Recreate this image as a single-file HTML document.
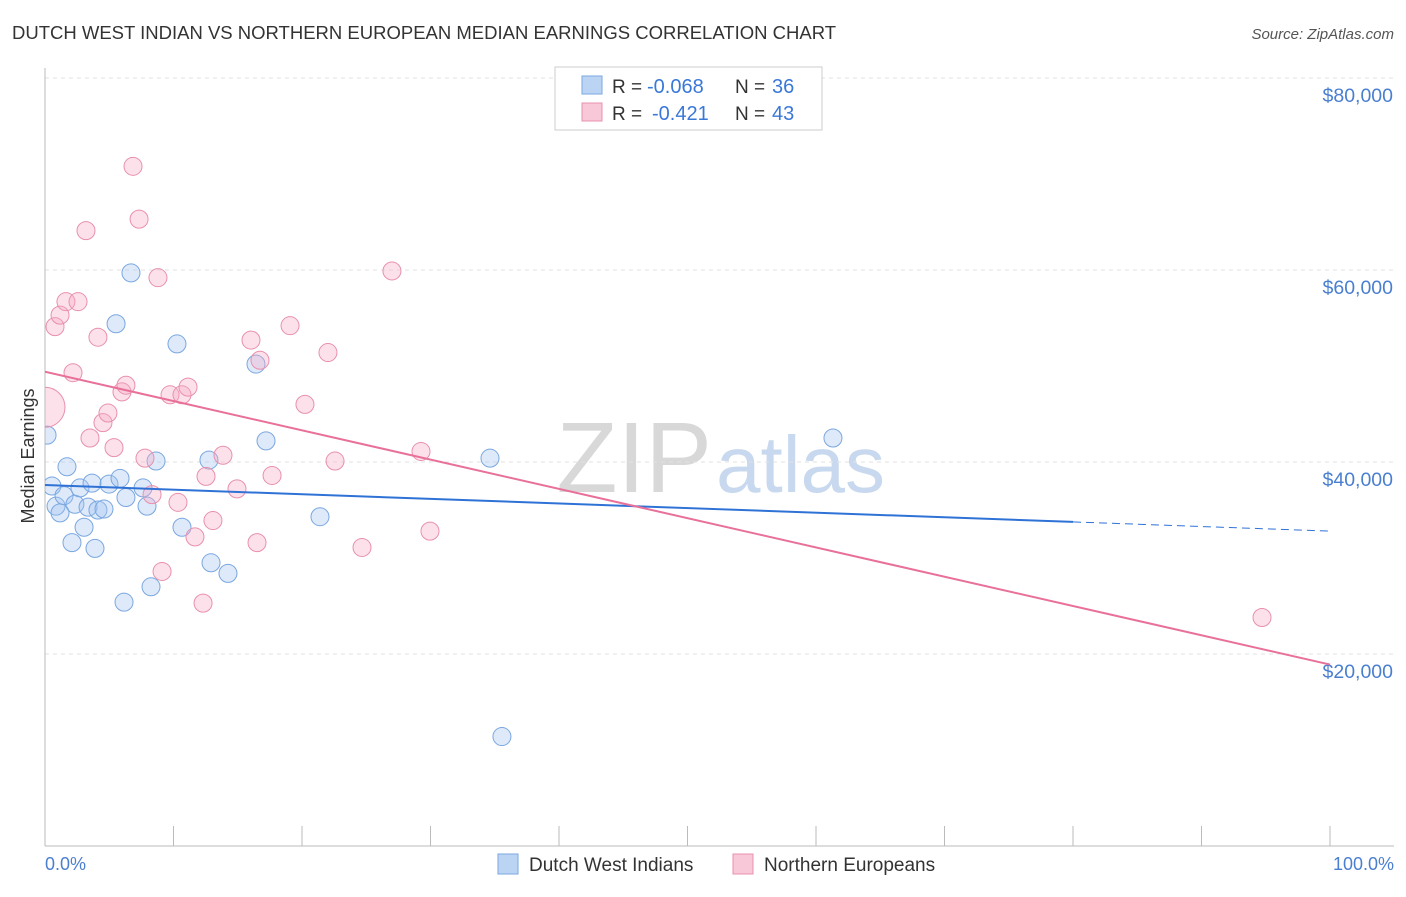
<!DOCTYPE html>
<html><head><meta charset="utf-8"><style>
body{margin:0;background:#fff;font-family:"Liberation Sans",sans-serif;}
svg text{font-family:"Liberation Sans",sans-serif;}
</style></head><body>
<svg id="chart" width="1406" height="892" viewBox="0 0 1406 892" xmlns="http://www.w3.org/2000/svg">
<defs><clipPath id="plotclip"><rect x="45" y="60" width="1360" height="790"/></clipPath></defs>
<text x="12" y="39" font-size="18.5" fill="#333">DUTCH WEST INDIAN VS NORTHERN EUROPEAN MEDIAN EARNINGS CORRELATION CHART</text>
<text x="1394" y="39" font-size="15" fill="#555" font-style="italic" text-anchor="end">Source: ZipAtlas.com</text>
<text x="712" y="492" font-size="100" fill="#d8d8d8" text-anchor="end" font-family="Liberation Serif">ZIP</text>
<text x="716" y="492" font-size="80" fill="#c8d8ee">atlas</text>
<g id="grid"></g>
<g id="axes"></g>
<g id="marks" clip-path="url(#plotclip)"></g>
<text transform="translate(34,456) rotate(-90)" font-size="18" fill="#333" text-anchor="middle">Median Earnings</text>
<text x="45" y="870" font-size="18" fill="#4a7fd0">0.0%</text>
<text x="1394" y="870" font-size="18" fill="#4a7fd0" text-anchor="end">100.0%</text>
<g>
<rect x="555" y="67" width="267" height="63" fill="#fff" stroke="#ccc"/>
<rect x="582" y="76" width="20" height="18" fill="#bcd4f4" stroke="#7aa7e0"/>
<rect x="582" y="103" width="20" height="18" fill="#f9c8d8" stroke="#e890ae"/>
<text x="612" y="93" font-size="19" fill="#333">R =</text>
<text x="647" y="93" font-size="20" fill="#3a78d8">-0.068</text>
<text x="735" y="93" font-size="19" fill="#333">N =</text>
<text x="772" y="93" font-size="20" fill="#3a78d8">36</text>
<text x="612" y="120" font-size="19" fill="#333">R =</text>
<text x="652" y="120" font-size="20" fill="#3a78d8">-0.421</text>
<text x="735" y="120" font-size="19" fill="#333">N =</text>
<text x="772" y="120" font-size="20" fill="#3a78d8">43</text>
</g>
<g>
<rect x="498" y="854" width="20" height="20" fill="#bcd4f4" stroke="#7aa7e0"/>
<text x="529" y="871" font-size="19" fill="#333">Dutch West Indians</text>
<rect x="733" y="854" width="20" height="20" fill="#f9c8d8" stroke="#e890ae"/>
<text x="764" y="871" font-size="19" fill="#333">Northern Europeans</text>
</g>
</svg>
<script>
const yTicks=[20000,40000,60000,80000];
const yTickLabels=["$20,000","$40,000","$60,000","$80,000"];
const xTicks=[0,10,20,30,40,50,60,70,80,90,100];
const blueX=[0.16,0.54,0.86,1.17,1.48,1.71,2.1,2.33,2.72,3.04,3.35,3.66,3.89,4.12,4.59,4.98,5.53,5.84,6.15,6.3,6.69,7.63,7.94,8.25,8.64,10.27,10.66,12.76,12.92,14.24,16.42,17.2,21.4,34.63,35.56,61.32];
const blueY=[42.8,37.5,35.4,34.7,36.5,39.5,31.6,35.6,37.3,33.2,35.3,37.8,31.0,35,35.1,37.7,54.4,38.3,25.4,36.3,59.7,37.3,35.4,27.0,40.1,52.3,33.2,40.2,29.5,28.4,50.2,42.2,34.3,40.4,11.4,42.5];
const pinkX=[0,0.78,1.17,1.63,2.18,2.57,3.19,3.5,4.12,4.51,4.9,5.37,5.99,6.3,6.85,7.32,7.78,8.33,8.79,9.11,9.73,10.35,10.66,11.13,11.67,12.3,12.53,13.07,13.85,14.94,16.03,16.5,16.73,17.67,19.07,20.23,22.02,22.57,24.67,27,29.26,29.96,94.71];
const pinkY=[45.7,54.1,55.3,56.7,49.3,56.7,64.1,42.5,53,44.1,45.1,41.5,47.3,48,70.8,65.3,40.4,36.6,59.2,28.6,47,35.8,47,47.8,32.2,25.3,38.5,33.9,40.7,37.2,52.7,31.6,50.6,38.6,54.2,46,51.4,40.1,31.1,59.9,41.1,32.8,23.8];
const blueTrend=[37.6,32.8];
const pinkTrend=[49.4,18.9];
const blueSolidEnd=80;
const NS="http://www.w3.org/2000/svg";
function xs(p){return 45+p*12.85;}
function ys(v){return 654-(v-20000)*192/20000;}
function yk(k){return ys(k*1000);}
function mk(t,a,parent){const e=document.createElementNS(NS,t);for(const k in a)e.setAttribute(k,a[k]);parent.appendChild(e);return e;}
const grid=document.getElementById('grid'),axes=document.getElementById('axes'),marks=document.getElementById('marks');
yTicks.forEach((v,i)=>{
 const l=mk('line',{x1:45,x2:1394,y1:ys(v),y2:ys(v),stroke:'#e2e2e2','stroke-dasharray':'4,4'},grid);
 
 
 const t=mk('text',{x:1393,y:ys(v)+24,'font-size':19.5,fill:'#4a7fd0','text-anchor':'end'},grid);
 t.textContent=yTickLabels[i];
 
 
});
const ax=mk('line',{x1:45,x2:1394,y1:846,y2:846,stroke:'#bbb'},axes);


const ay=mk('line',{x1:45,x2:45,y1:68,y2:846,stroke:'#bbb'},axes);


xTicks.forEach(p=>{
 const l=mk('line',{x1:xs(p),x2:xs(p),y1:826,y2:846,stroke:'#bbb'},axes);
 
 
});
blueX.forEach((x,i)=>{
 const c=mk('circle',{cx:xs(x),cy:yk(blueY[i]),r:9,fill:'rgba(160,196,240,0.35)',stroke:'#7aa7e0','stroke-width':1},marks);
 
 
});
pinkX.forEach((x,i)=>{
 const c=mk('circle',{cx:xs(x),cy:yk(pinkY[i]),r:i===0?20:9,fill:'rgba(245,170,195,0.35)',stroke:'#e890ae','stroke-width':1},marks);
 
 
});
function tv(tr,p){return tr[0]+(tr[1]-tr[0])*p/100;}
const b1=mk('line',{x1:xs(0),y1:yk(tv(blueTrend,0)),x2:xs(blueSolidEnd),y2:yk(tv(blueTrend,blueSolidEnd)),stroke:'#2f72d6','stroke-width':2},marks);


const b2=mk('line',{x1:xs(blueSolidEnd),y1:yk(tv(blueTrend,blueSolidEnd)),x2:xs(100),y2:yk(tv(blueTrend,100)),stroke:'#2f72d6','stroke-width':1,'stroke-dasharray':'8,5'},marks);


const p1=mk('line',{x1:xs(0),y1:yk(tv(pinkTrend,0)),x2:xs(100),y2:yk(tv(pinkTrend,100)),stroke:'#e8709a','stroke-width':2},marks);


</script>
</body></html>
